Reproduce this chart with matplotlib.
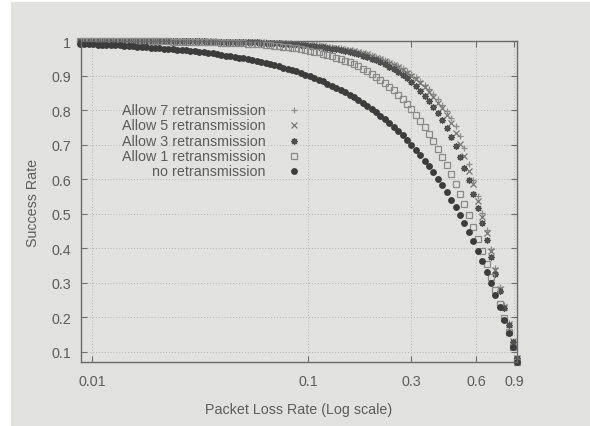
import matplotlib.pyplot as plt
from matplotlib.patches import Rectangle
from matplotlib.ticker import NullLocator

# packet loss rate (x) and success rate of each scheme
p_loss = [0.00880, 0.00922, 0.00967, 0.01014, 0.01062, 0.01114, 0.01167, 0.01223, 0.01282, 0.01344,
          0.01409, 0.01477, 0.01548, 0.01623, 0.01701, 0.01783, 0.01869, 0.01959, 0.02053, 0.02152,
          0.02256, 0.02365, 0.02479, 0.02598, 0.02723, 0.02855, 0.02992, 0.03136, 0.03288, 0.03446,
          0.03612, 0.03786, 0.03969, 0.04160, 0.04360, 0.04570, 0.04791, 0.05022, 0.05264, 0.05517,
          0.05783, 0.06062, 0.06354, 0.06660, 0.06981, 0.07318, 0.07670, 0.08040, 0.08427, 0.08834,
          0.09259, 0.09705, 0.1017, 0.1066, 0.1118, 0.1172, 0.1228, 0.1287, 0.1349, 0.1414,
          0.1483, 0.1554, 0.1629, 0.1707, 0.1790, 0.1876, 0.1966, 0.2061, 0.2160, 0.2264,
          0.2374, 0.2488, 0.2608, 0.2734, 0.2865, 0.3003, 0.3148, 0.3300, 0.3459, 0.3626,
          0.3800, 0.3983, 0.4175, 0.4377, 0.4588, 0.4809, 0.5040, 0.5283, 0.5538, 0.5805,
          0.6084, 0.6378, 0.6685, 0.7008, 0.7345, 0.7699, 0.8070, 0.8459, 0.8867, 0.9294]

no_retx = [0.991, 0.991, 0.990, 0.990, 0.989, 0.989, 0.988, 0.988, 0.987, 0.987,
           0.986, 0.985, 0.985, 0.984, 0.983, 0.982, 0.981, 0.980, 0.979, 0.978,
           0.977, 0.976, 0.975, 0.974, 0.973, 0.971, 0.970, 0.969, 0.967, 0.966,
           0.964, 0.962, 0.960, 0.958, 0.956, 0.954, 0.952, 0.950, 0.947, 0.945,
           0.942, 0.939, 0.936, 0.933, 0.930, 0.927, 0.923, 0.920, 0.916, 0.912,
           0.907, 0.903, 0.898, 0.893, 0.888, 0.883, 0.877, 0.871, 0.865, 0.859,
           0.852, 0.845, 0.837, 0.829, 0.821, 0.812, 0.803, 0.794, 0.784, 0.774,
           0.763, 0.751, 0.739, 0.727, 0.713, 0.700, 0.685, 0.670, 0.654, 0.637,
           0.620, 0.602, 0.582, 0.562, 0.541, 0.519, 0.496, 0.472, 0.446, 0.420,
           0.392, 0.362, 0.331, 0.299, 0.265, 0.230, 0.193, 0.154, 0.113, 0.071]

allow_1 = [1.000, 1.000, 1.000, 1.000, 1.000, 1.000, 1.000, 1.000, 1.000, 0.999,
           0.999, 0.999, 0.999, 0.999, 0.999, 0.999, 0.999, 0.999, 0.999, 0.999,
           0.999, 0.998, 0.998, 0.998, 0.998, 0.998, 0.997, 0.997, 0.997, 0.997,
           0.996, 0.996, 0.995, 0.995, 0.995, 0.994, 0.993, 0.993, 0.992, 0.991,
           0.991, 0.990, 0.989, 0.988, 0.986, 0.985, 0.984, 0.982, 0.980, 0.979,
           0.977, 0.974, 0.972, 0.969, 0.967, 0.963, 0.960, 0.956, 0.952, 0.948,
           0.943, 0.938, 0.933, 0.927, 0.920, 0.913, 0.905, 0.897, 0.888, 0.878,
           0.868, 0.857, 0.844, 0.832, 0.818, 0.803, 0.786, 0.769, 0.751, 0.731,
           0.711, 0.688, 0.665, 0.640, 0.614, 0.586, 0.557, 0.527, 0.495, 0.462,
           0.428, 0.392, 0.356, 0.318, 0.279, 0.239, 0.199, 0.157, 0.115, 0.071]

allow_3 = [1.000, 1.000, 1.000, 1.000, 1.000, 1.000, 1.000, 1.000, 1.000, 1.000,
           1.000, 1.000, 1.000, 1.000, 1.000, 1.000, 1.000, 0.999, 0.999, 0.999,
           0.999, 0.999, 0.999, 0.999, 0.999, 0.999, 0.999, 0.999, 0.999, 0.998,
           0.998, 0.998, 0.998, 0.998, 0.997, 0.997, 0.997, 0.997, 0.996, 0.996,
           0.996, 0.995, 0.995, 0.994, 0.994, 0.993, 0.992, 0.991, 0.991, 0.990,
           0.989, 0.988, 0.986, 0.985, 0.984, 0.982, 0.980, 0.978, 0.976, 0.974,
           0.971, 0.968, 0.965, 0.962, 0.958, 0.954, 0.949, 0.944, 0.938, 0.932,
           0.926, 0.918, 0.910, 0.901, 0.892, 0.881, 0.869, 0.856, 0.842, 0.827,
           0.809, 0.791, 0.770, 0.747, 0.722, 0.695, 0.665, 0.633, 0.597, 0.558,
           0.516, 0.472, 0.425, 0.376, 0.326, 0.276, 0.227, 0.178, 0.130, 0.082]

allow_5 = [1.000, 1.000, 1.000, 1.000, 1.000, 1.000, 1.000, 1.000, 1.000, 1.000,
           1.000, 1.000, 1.000, 1.000, 1.000, 1.000, 1.000, 1.000, 1.000, 0.999,
           0.999, 0.999, 0.999, 0.999, 0.999, 0.999, 0.999, 0.999, 0.999, 0.999,
           0.999, 0.998, 0.998, 0.998, 0.998, 0.998, 0.997, 0.997, 0.997, 0.997,
           0.996, 0.996, 0.995, 0.995, 0.995, 0.994, 0.993, 0.993, 0.992, 0.991,
           0.990, 0.989, 0.988, 0.987, 0.986, 0.985, 0.983, 0.981, 0.980, 0.978,
           0.975, 0.973, 0.970, 0.967, 0.964, 0.961, 0.957, 0.952, 0.948, 0.943,
           0.937, 0.931, 0.924, 0.916, 0.908, 0.899, 0.889, 0.878, 0.866, 0.853,
           0.838, 0.822, 0.805, 0.785, 0.762, 0.733, 0.702, 0.666, 0.625, 0.585,
           0.538, 0.491, 0.443, 0.392, 0.336, 0.283, 0.231, 0.180, 0.131, 0.083]

allow_7 = [1.000, 1.000, 1.000, 1.000, 1.000, 1.000, 1.000, 1.000, 1.000, 1.000,
           1.000, 1.000, 1.000, 1.000, 1.000, 1.000, 1.000, 1.000, 1.000, 1.000,
           0.999, 0.999, 0.999, 0.999, 0.999, 0.999, 0.999, 0.999, 0.999, 0.999,
           0.999, 0.998, 0.998, 0.998, 0.998, 0.998, 0.998, 0.997, 0.997, 0.997,
           0.996, 0.996, 0.996, 0.995, 0.995, 0.994, 0.994, 0.993, 0.992, 0.992,
           0.991, 0.990, 0.989, 0.988, 0.987, 0.985, 0.984, 0.982, 0.981, 0.979,
           0.977, 0.974, 0.972, 0.969, 0.966, 0.963, 0.959, 0.955, 0.951, 0.946,
           0.940, 0.934, 0.928, 0.921, 0.913, 0.904, 0.895, 0.885, 0.873, 0.861,
           0.847, 0.832, 0.815, 0.797, 0.777, 0.755, 0.726, 0.690, 0.643, 0.598,
           0.551, 0.502, 0.452, 0.398, 0.343, 0.288, 0.235, 0.183, 0.133, 0.084]

x_ticks = [0.01, 0.1, 0.3, 0.6, 0.9]
x_ticklabels = ['0.01', '0.1', '0.3', '0.6', '0.9']
y_ticks = [0.1, 0.2, 0.3, 0.4, 0.5, 0.6, 0.7, 0.8, 0.9, 1.0]
y_ticklabels = ['0.1', '0.2', '0.3', '0.4', '0.5', '0.6', '0.7', '0.8', '0.9', '1']

plt.rcParams['font.family'] = ['Liberation Sans', 'DejaVu Sans']
txt_color = '#5c5c5c'
bg = '#e1e2e0'
fs = 10.3

fig = plt.figure(figsize=(5.9, 4.27), dpi=100, facecolor='white')
# photo background (white strip on the left/top edge)
fig.patches.append(Rectangle((11 / 590, 0), 1, 424 / 427, transform=fig.transFigure,
                             facecolor=bg, edgecolor='none', zorder=-10))
ax = fig.add_axes([81 / 590, 64 / 427, 436 / 590, 321 / 427])
ax.set_facecolor(bg)

# series: label, values, marker, size, face, edge
series = [
    ('Allow 7 retransmission', allow_7, '+', 4.5, 'none', '#8c8c8c'),
    ('Allow 5 retransmission', allow_5, 'x', 3.8, 'none', '#777777'),
    ('Allow 3 retransmission', allow_3, (8, 2, 0), 4.8, 'none', '#505050'),
    ('Allow 1 retransmission', allow_1, 's', 4.2, 'none', '#8a8a8a'),
    ('no retransmission', no_retx, 'o', 4.0, '#3c3c3c', '#3c3c3c'),
]
for label, vals, mk, ms, fc, ec in series:
    ax.plot(p_loss, vals, linestyle='none', marker=mk, markersize=ms,
            markerfacecolor=fc, markeredgecolor=ec, markeredgewidth=0.9, clip_on=False)

ax.set_xscale('log')
ax.set_xlim(0.0089, 0.925)
ax.set_ylim(0.071, 1.0)
ax.set_xticks(x_ticks)
ax.set_xticklabels(x_ticklabels)
ax.xaxis.set_minor_locator(NullLocator())
ax.set_yticks(y_ticks)
ax.set_yticklabels(y_ticklabels)
ax.tick_params(direction='in', top=True, right=True, length=4, width=0.8,
               color='#707070', labelcolor=txt_color, labelsize=fs, pad=7)
ax.tick_params(axis='x', pad=9)
ax.grid(True, linestyle=(0, (1, 2)), color='#b4b4b4', linewidth=0.7)
for s in ax.spines.values():
    s.set_color('#6a6a6a')
    s.set_linewidth(1.0)

ax.set_xlabel('Packet Loss Rate (Log scale)', fontsize=fs, color=txt_color, labelpad=10)
ax.set_ylabel('Success Rate', fontsize=fs, color=txt_color, labelpad=8)

# gnuplot style key: right aligned text, marker on the right
key_y = [0.785, 0.737, 0.688, 0.642, 0.595]
for (label, vals, mk, ms, fc, ec), ky in zip(series, key_y):
    ax.text(0.424, ky, label, transform=ax.transAxes, ha='right', va='center',
            fontsize=fs, color=txt_color)
    ax.plot([0.4885], [ky], transform=ax.transAxes, linestyle='none', marker=mk,
            markersize=ms, markerfacecolor=fc, markeredgecolor=ec, markeredgewidth=0.9)

fig.savefig('out.png', dpi=100, facecolor=fig.get_facecolor())
